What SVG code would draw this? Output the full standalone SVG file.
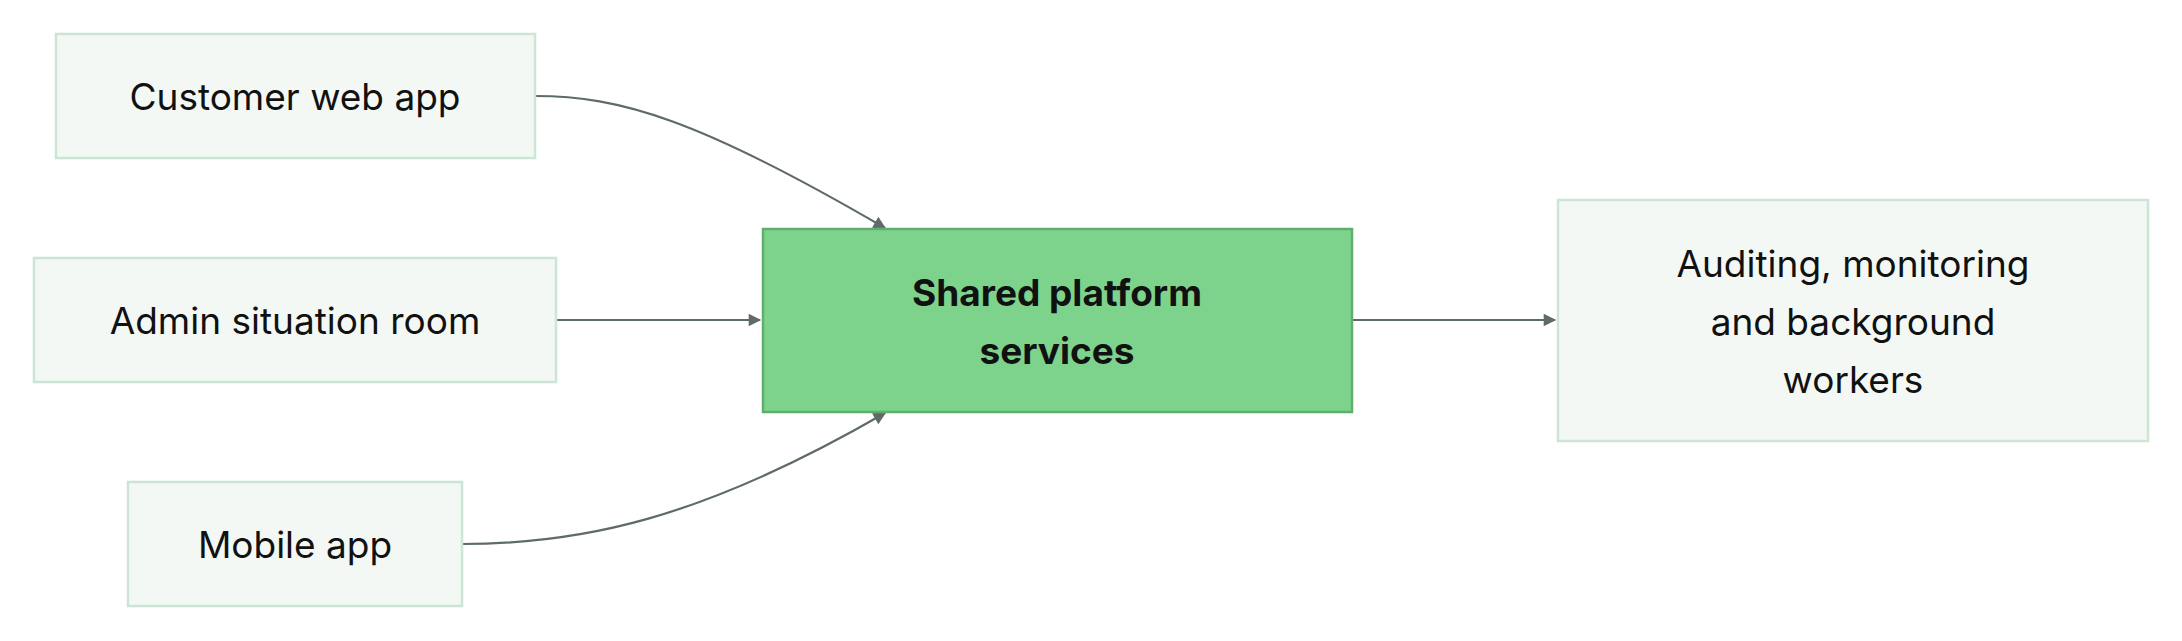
<svg xmlns="http://www.w3.org/2000/svg" width="2182" height="641" viewBox="0 0 2182 641">
<style>
.n{fill:#f3f8f4;stroke:#cce6d5;stroke-width:2.5}
.c{fill:#7dd38c;stroke:#5fae6d;stroke-width:2.5}
text{font-family:Inter,"Noto Sans",sans-serif;font-size:37px;fill:#111;text-anchor:middle;dominant-baseline:central}
.b{font-weight:700}
.e{fill:none;stroke:#5f6b66;stroke-width:2.2}
</style>
<defs><marker id="a" viewBox="0 0 10 10" refX="9" refY="5" markerWidth="7" markerHeight="7" orient="auto" markerUnits="userSpaceOnUse" style="overflow:visible"><path d="M0,0 L10,5 L0,10 Z" fill="#5f6b66" transform="scale(1.8) translate(-4,-2.2)"/></marker></defs>
<rect width="2182" height="641" fill="#fff"/>
<g id="edges">
<path class="e" d="M535,96 C620,96 700,120 885,228" marker-end="url(#a)"/>
<path class="e" d="M556,320 L760,320" marker-end="url(#a)"/>
<path class="e" d="M462,544 C580,544 700,520 885,413" marker-end="url(#a)"/>
<path class="e" d="M1352,320 L1555,320" marker-end="url(#a)"/>
</g>
<g id="customer"><rect class="n" x="56" y="34" width="479" height="124"/><text x="295" y="96">Customer web app</text></g>
<g id="admin"><rect class="n" x="34" y="258" width="522" height="124"/><text x="295" y="320">Admin situation room</text></g>
<g id="mobile"><rect class="n" x="128" y="482" width="334" height="124"/><text x="295" y="544">Mobile app</text></g>
<g id="shared"><rect class="c" x="763" y="229" width="589" height="183"/><text class="b" x="1057" y="292">Shared platform</text><text class="b" x="1057" y="350">services</text></g>
<g id="aud"><rect class="n" x="1558" y="200" width="590" height="241"/><text x="1853" y="263">Auditing, monitoring</text><text x="1853" y="321">and background</text><text x="1853" y="379">workers</text></g>
</svg>
